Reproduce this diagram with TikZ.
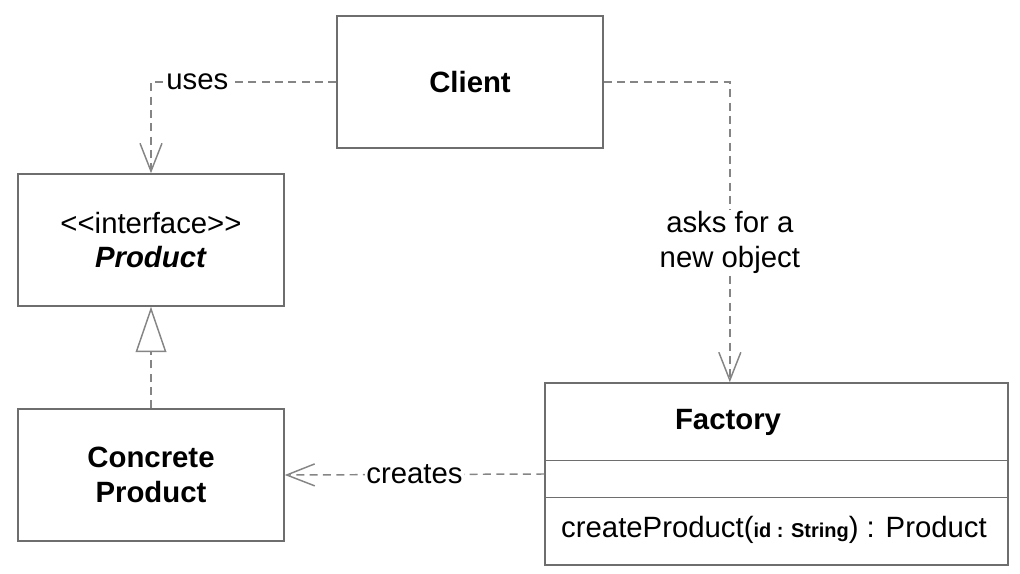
\documentclass[tikz,border=0pt]{standalone}
\usepackage{fontspec}
\setmainfont{Liberation Sans}
\usetikzlibrary{arrows.meta}
\definecolor{boxline}{HTML}{6E6E6E}
\definecolor{dashline}{HTML}{858585}
\begin{document}
\begin{tikzpicture}[x=0.75pt,y=-0.75pt,
	font=\fontsize{22}{26}\selectfont,
	umlbox/.style={draw=boxline, line width=1.1pt, rectangle, minimum width=199.5pt, minimum height=99pt, align=center, inner sep=0pt},
	dep/.style={draw=dashline, line width=1.1pt, dash pattern=on 6pt off 4pt, -{Straight Barb[length=21pt, width=16.5pt, line width=1.1pt]}},
	realize/.style={draw=dashline, line width=1.1pt, dash pattern=on 6pt off 4pt, -{Triangle[open, length=34pt, width=23pt, line width=1.1pt, fill=white]}},
	lbl/.style={fill=white, inner sep=1pt, align=center}]
		\useasboundingbox (0,0) rectangle (1020,574);
		%\draw[help lines] (0,0) grid[step=100] (1020,574);
		
		\node[umlbox] (client) at (470,82) {\textbf{Client}};
		\node[umlbox] (product) at (151,240) {<\kern0pt<interface>\kern0pt>\\\textbf{\textit{Product}}};
		\node[umlbox] (concrete) at (151,475) {\textbf{Concrete}\\\textbf{Product}};
		\node[umlbox, minimum width=347.25pt, minimum height=136.5pt] (factory) at (776.5,474) {};%factory
		
		\draw[boxline, line width=1.1pt] ([yshift=-58.5pt]factory.north west) -- ([yshift=-58.5pt]factory.north east);%divider
		\draw[boxline, line width=1.1pt] ([yshift=-86.25pt]factory.north west) -- ([yshift=-86.25pt]factory.north east);%divider
		\node (factname) at (728,422) {\textbf{Factory}};
		\node (method) at (774,530) {createProduct({\fontsize{15}{18}\selectfont\textbf{id : String}}) : Product};
		
		\draw[dep] (client.west) -| node[lbl, pos=0.375] {uses} (product.north);
		\draw[dep] (client.east) -| node[lbl, pos=0.767] {asks for a\\new object} ([xshift=-35pt]factory.north);
		\draw[dep] (factory.west) -- node[lbl] {creates} (concrete.east);
		\draw[realize] (concrete.north) -- (product.south);
		\end{tikzpicture}
\end{document}
